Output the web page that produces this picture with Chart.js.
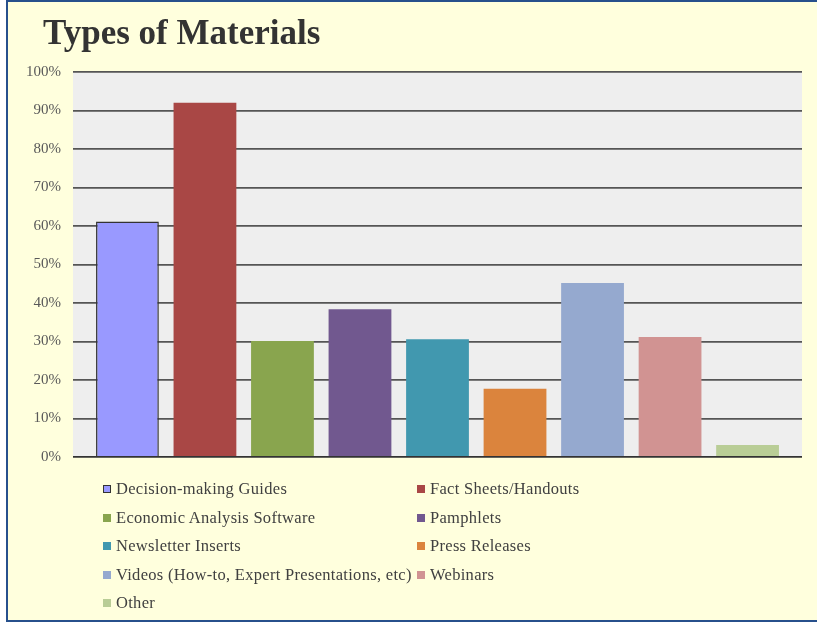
<!DOCTYPE html>
<html>
<head>
<meta charset="utf-8">
<title>Types of Materials</title>
<script src="https://cdn.jsdelivr.net/npm/chart.js@4/dist/chart.umd.min.js"></script>
<style>
  html, body { margin:0; padding:0; background:#fff; }
  #frame {
    position:absolute; left:6px; top:0; width:820px; height:618px;
    background:#FFFFDD;
    border-left:2px solid #27508C;
    border-top:2px solid #27508C;
    border-bottom:2px solid #27508C;
  }
  #wrap { position:absolute; left:0; top:0; width:817px; height:624px; }
  #legend {
    position:absolute; left:103px; top:479px;
    display:grid; grid-template-columns:314px 300px; row-gap:8.5px;
    font-family:"Liberation Serif", serif; font-size:16.5px; letter-spacing:0.3px; color:#404040;
  }
  #legend div { display:flex; align-items:center; height:20px; white-space:nowrap; }
  #legend span.box { flex-shrink:0; width:8px; height:8px; margin-right:5px; box-sizing:border-box; }
</style>
</head>
<body>
<div id="frame"></div>
<div id="wrap"><canvas id="chart" width="817" height="624"></canvas></div>
<div id="legend"></div>

<script>
/* -------------------------------------------
   DATA
   ------------------------------------------- */

const categories = [
  "Decision-making Guides",
  "Fact Sheets/Handouts",
  "Economic Analysis Software",
  "Pamphlets",
  "Newsletter Inserts",
  "Press Releases",
  "Videos (How-to, Expert Presentations, etc)",
  "Webinars",
  "Other"
];

const percents = [61.2, 92, 30.1, 38.4, 30.6, 17.7, 45.2, 31.2, 3.1];

const yTicks = [0, 10, 20, 30, 40, 50, 60, 70, 80, 90, 100];

const colors = ["#9999FF","#A94745","#89A54E","#71588F","#4198AF","#DB843D","#95A9CF","#D19392","#B9CD96"];


/* -------------------------------------------
   PLUGINS: plot background + title offset
   ------------------------------------------- */

const plotBg = {
  id:"plotBg",
  beforeDraw(chart){
    const a = chart.chartArea;
    const ctx = chart.ctx;
    ctx.save();
    ctx.fillStyle = "#EEEEEE";
    ctx.fillRect(a.left, a.top, a.right - a.left, a.bottom - a.top);
    ctx.restore();
  }
};

// title sits further in than the axis labels
const titleShift = {
  id:"titleShift",
  afterLayout(chart){
    if(chart.titleBlock) chart.titleBlock.left += 33;
  }
};


/* -------------------------------------------
   CHART
   ------------------------------------------- */

const datasets = categories.map((name, i)=>({
  label: name,
  data: [percents[i]],
  backgroundColor: colors[i],
  borderColor: i === 0 ? "#333333" : colors[i],
  borderWidth: i === 0 ? 1.5 : 0,
  categoryPercentage: 0.957,
  barPercentage: 0.81
}));

const chart = new Chart(document.getElementById("chart"),{
  type:"bar",
  data:{ labels:[""], datasets:datasets },
  plugins:[plotBg, titleShift],
  options:{
    responsive:false,
    animation:false,
    layout:{ padding:{ left:10, right:15, top:14, bottom:167 } },
    plugins:{
      legend:{ display:false },
      tooltip:{ enabled:false },
      title:{
        display:true,
        text:"Types of Materials",
        align:"start",
        color:"#333333",
        font:{ family:"Liberation Serif", size:35, weight:"bold" },
        padding:{ top:0, bottom:16 }
      }
    },
    scales:{
      x:{ display:false },
      y:{
        min:0, max:100,
        afterBuildTicks(scale){ scale.ticks = yTicks.map(v=>({value:v})); },
        afterFit(scale){ scale.width = 63; },
        border:{ display:false },
        grid:{
          drawTicks:false,
          color:(c)=> c.index === 0 ? "#333333" : "#555555",
          lineWidth:1.8
        },
        ticks:{
          padding:12,
          color:"#595959",
          font:{ family:"Liberation Serif", size:15 },
          callback:(v)=> v + "%"
        }
      }
    }
  }
});


/* -------------------------------------------
   LEGEND (two columns, built from the datasets)
   ------------------------------------------- */

const legendEl = document.getElementById("legend");
chart.data.datasets.forEach((ds, i)=>{
  const item = document.createElement("div");
  const box = document.createElement("span");
  box.className = "box";
  box.style.background = ds.backgroundColor;
  if(i === 0) box.style.border = "1px solid #333";
  item.appendChild(box);
  item.appendChild(document.createTextNode(ds.label));
  legendEl.appendChild(item);
});
</script>
</body>
</html>
